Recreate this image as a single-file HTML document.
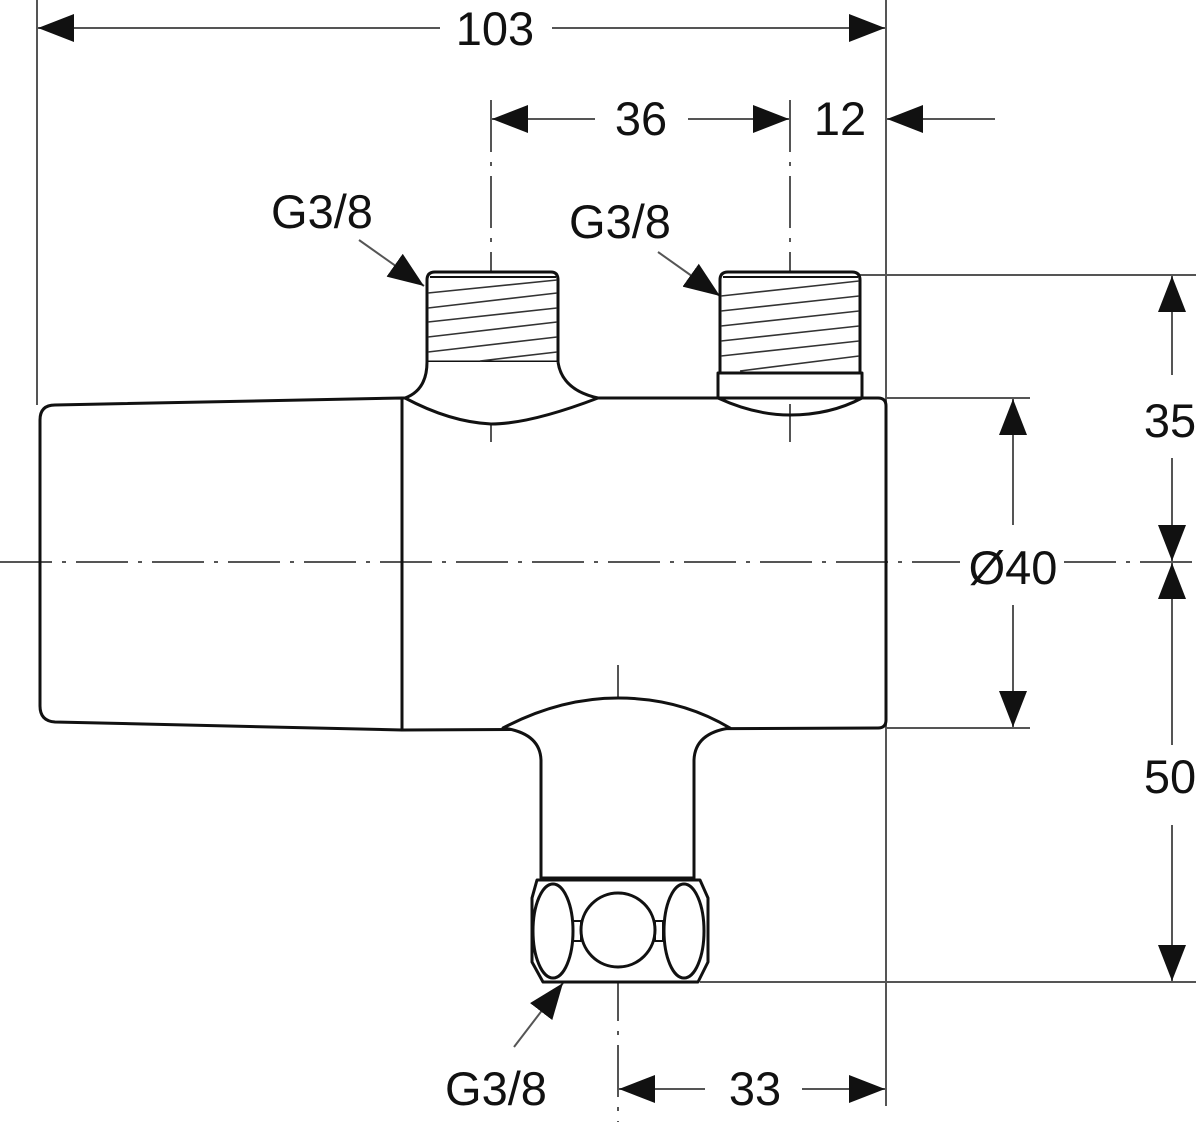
<!DOCTYPE html>
<html><head><meta charset="utf-8"><style>
html,body{margin:0;padding:0;background:#fff}
svg{display:block}
text{font-family:"Liberation Sans",sans-serif;fill:#111;font-size:47px}
</style></head><body>
<svg width="1200" height="1124" viewBox="0 0 1200 1124" xmlns="http://www.w3.org/2000/svg">
<defs>
<marker id="a" viewBox="0 0 36 28" refX="36" refY="14" markerWidth="36" markerHeight="28" markerUnits="userSpaceOnUse" orient="auto"><path d="M0,0 L36,14 L0,28 Z" fill="#111"/></marker>
</defs>
<g stroke="#555" stroke-width="2" fill="none">
<line x1="37" y1="0" x2="37" y2="405"/>
<line x1="886" y1="0" x2="886" y2="1106"/>
<line x1="860" y1="275" x2="1196" y2="275"/>
<line x1="886" y1="398" x2="1030" y2="398"/>
<line x1="886" y1="728" x2="1030" y2="728"/>
<line x1="700" y1="982" x2="1196" y2="982"/>
</g>
<g stroke="#555" stroke-width="2" fill="none" stroke-dasharray="52,10,4,10">
<line x1="0" y1="562" x2="960" y2="562"/>
<line x1="1064" y1="562" x2="1200" y2="562"/>
<line x1="491" y1="100" x2="491" y2="442"/>
<line x1="790" y1="100" x2="790" y2="442"/>
<line x1="618" y1="665" x2="618" y2="1122"/>
</g>
<g stroke="#555" stroke-width="2" fill="none">
<line x1="440" y1="28" x2="38" y2="28" marker-end="url(#a)"/>
<line x1="552" y1="28" x2="885" y2="28" marker-end="url(#a)"/>
<line x1="595" y1="119" x2="492" y2="119" marker-end="url(#a)"/>
<line x1="688" y1="119" x2="789" y2="119" marker-end="url(#a)"/>
<line x1="995" y1="119" x2="887" y2="119" marker-end="url(#a)"/>
<line x1="1172" y1="375" x2="1172" y2="276" marker-end="url(#a)"/>
<line x1="1172" y1="458" x2="1172" y2="561" marker-end="url(#a)"/>
<line x1="1172" y1="745" x2="1172" y2="563" marker-end="url(#a)"/>
<line x1="1172" y1="825" x2="1172" y2="981" marker-end="url(#a)"/>
<line x1="1013" y1="525" x2="1013" y2="399" marker-end="url(#a)"/>
<line x1="1013" y1="605" x2="1013" y2="727" marker-end="url(#a)"/>
<line x1="705" y1="1089" x2="619" y2="1089" marker-end="url(#a)"/>
<line x1="802" y1="1089" x2="885" y2="1089" marker-end="url(#a)"/>
<line x1="359" y1="240" x2="424" y2="286" marker-end="url(#a)"/>
<line x1="658" y1="252" x2="720" y2="296" marker-end="url(#a)"/>
<line x1="514" y1="1047" x2="563" y2="983" marker-end="url(#a)"/>
</g>
<g stroke="#111" stroke-width="3" fill="none" stroke-linejoin="round">
<path d="M55,405 L402,398 L402,730 L55,722 Q40,721 40,706 L40,420 Q40,405 55,405 Z"/>
<path d="M402,398 L878,398 Q886,398 886,406 L886,720 Q886,728 878,728 L402,730"/>
<path d="M427,280 Q427,272 435,272 L551,272 Q558,272 558,280 L558,362 L427,362 Z" fill="#fff"/>
<line x1="430" y1="277" x2="556" y2="277" stroke-width="2"/>
<path d="M427,362 Q427,390 405,398 Q450,422 491,424 Q530,424 598,398 Q562,390 558,362" fill="#fff"/>
<path d="M720,280 Q720,272 728,272 L852,272 Q860,272 860,280 L860,373 L720,373 Z" fill="#fff"/>
<line x1="723" y1="277" x2="858" y2="277" stroke-width="2"/>
<path d="M718,373 L862,373 L862,398 L718,398 Z" fill="#fff"/>
<path d="M718,398 Q755,415 790,415 Q830,415 862,398"/>
<path d="M503,728 Q560,698 618,698 Q680,698 730,728 Q695,733 694,760 L694,878 L541,878 L541,760 Q540,733 503,728 Z" fill="#fff"/>
<path d="M537,880 L700,880 L708,898 L708,962 L698,982 L543,982 L532,962 L532,898 Z" fill="#fff"/>
<ellipse cx="553" cy="931" rx="20" ry="47"/>
<ellipse cx="684" cy="931" rx="20" ry="47"/>
<circle cx="618" cy="930" r="37"/>
<rect x="573" y="921" width="8" height="20" stroke-width="2"/>
<rect x="655" y="921" width="8" height="20" stroke-width="2"/>
</g>
<g stroke="#333" stroke-width="1.6">
<line x1="428" y1="293" x2="557" y2="280"/>
<line x1="428" y1="308" x2="557" y2="293"/>
<line x1="428" y1="322" x2="557" y2="308"/>
<line x1="428" y1="337" x2="557" y2="322"/>
<line x1="428" y1="352" x2="557" y2="337"/>
<line x1="480" y1="361" x2="557" y2="352"/>
<line x1="721" y1="296" x2="859" y2="281"/>
<line x1="721" y1="311" x2="859" y2="296"/>
<line x1="721" y1="326" x2="859" y2="311"/>
<line x1="721" y1="341" x2="859" y2="326"/>
<line x1="721" y1="356" x2="859" y2="341"/>
<line x1="740" y1="371" x2="859" y2="356"/>
</g>
<text x="495" y="45" text-anchor="middle">103</text>
<text x="641" y="135" text-anchor="middle">36</text>
<text x="840" y="135" text-anchor="middle">12</text>
<text x="322" y="228" text-anchor="middle">G3/8</text>
<text x="620" y="238" text-anchor="middle">G3/8</text>
<text x="1170" y="437" text-anchor="middle">35</text>
<text x="1013" y="584" text-anchor="middle">Ø40</text>
<text x="1170" y="793" text-anchor="middle">50</text>
<text x="755" y="1105" text-anchor="middle">33</text>
<text x="496" y="1105" text-anchor="middle">G3/8</text>
</svg>
</body></html>
